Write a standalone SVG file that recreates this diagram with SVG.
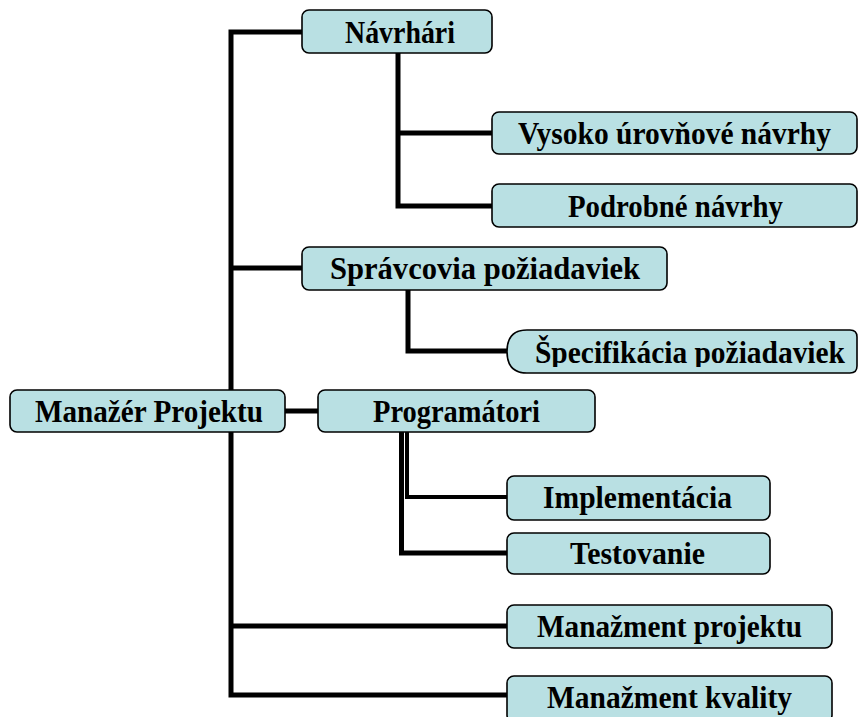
<svg xmlns="http://www.w3.org/2000/svg" width="860" height="717" viewBox="0 0 860 717">
<style>
.box{fill:#b9e0e3;stroke:#000;stroke-width:1.6}
.lbl{font-family:"Liberation Serif","Times New Roman",serif;font-weight:bold;font-size:31px;fill:#000;text-anchor:middle}
.ln{fill:none;stroke:#000;stroke-width:5;stroke-linejoin:miter;stroke-linecap:butt}
</style>
<defs>
<clipPath id="specClip"><rect x="507" y="330" width="350" height="37"/></clipPath>
</defs>
<rect width="860" height="717" fill="#fff"/>
<g id="connectors">
<path class="ln" d="M302 32 H231 V695 H507"/>
<path class="ln" d="M231 268 H302"/>
<path class="ln" d="M231 626 H507"/>
<path class="ln" d="M285 411 H318"/>
<path class="ln" d="M398 53 V206 H492"/>
<path class="ln" d="M398 133 H492"/>
<path class="ln" d="M408 290 V351 H507"/>
<path class="ln" d="M401.5 432 V553 H507"/>
<path class="ln" style="stroke-width:4" d="M407 432 V497 H507"/>
</g>
<g id="navrhari"><rect class="box" x="302" y="10" width="190" height="43" rx="7"/><text class="lbl" x="400" y="43" textLength="110" lengthAdjust="spacingAndGlyphs">Návrhári</text></g>
<g id="vysoko"><rect class="box" x="492" y="112" width="365" height="42" rx="7"/><text class="lbl" x="674.5" y="144" textLength="313" lengthAdjust="spacingAndGlyphs">Vysoko úrovňové návrhy</text></g>
<g id="podrobne"><rect class="box" x="492" y="184" width="365" height="43" rx="7"/><text class="lbl" x="675.5" y="217" textLength="215" lengthAdjust="spacingAndGlyphs">Podrobné návrhy</text></g>
<g id="spravcovia"><rect class="box" x="302" y="247" width="365" height="43" rx="7"/><text class="lbl" x="485" y="279" textLength="310" lengthAdjust="spacingAndGlyphs">Správcovia požiadaviek</text></g>
<g id="specifikacia"><path class="box" d="M527 330 H850 Q857 330 857 337 V366 Q857 373 850 373 H527 Q507 373 507 351.5 Q507 330 527 330 Z"/><text class="lbl" x="690" y="363" textLength="310" lengthAdjust="spacingAndGlyphs" clip-path="url(#specClip)">Špecifikácia požiadaviek</text></g>
<g id="manazer"><rect class="box" x="10" y="390" width="275" height="42" rx="7"/><text class="lbl" x="149" y="422" textLength="228" lengthAdjust="spacingAndGlyphs">Manažér Projektu</text></g>
<g id="programatori"><rect class="box" x="318" y="390" width="277" height="42" rx="7"/><text class="lbl" x="456.5" y="422" textLength="167" lengthAdjust="spacingAndGlyphs">Programátori</text></g>
<g id="implementacia"><rect class="box" x="507" y="476" width="263" height="44" rx="7"/><text class="lbl" x="637.5" y="508" textLength="189" lengthAdjust="spacingAndGlyphs">Implementácia</text></g>
<g id="testovanie"><rect class="box" x="507" y="533" width="263" height="41" rx="7"/><text class="lbl" x="637.5" y="564" textLength="135" lengthAdjust="spacingAndGlyphs">Testovanie</text></g>
<g id="manazment-projektu"><rect class="box" x="507" y="605" width="325" height="43" rx="7"/><text class="lbl" x="669.5" y="637" textLength="265" lengthAdjust="spacingAndGlyphs">Manažment projektu</text></g>
<g id="manazment-kvality"><rect class="box" x="507" y="676" width="325" height="46" rx="7"/><text class="lbl" x="669.5" y="708" textLength="245" lengthAdjust="spacingAndGlyphs">Manažment kvality</text></g>
</svg>
